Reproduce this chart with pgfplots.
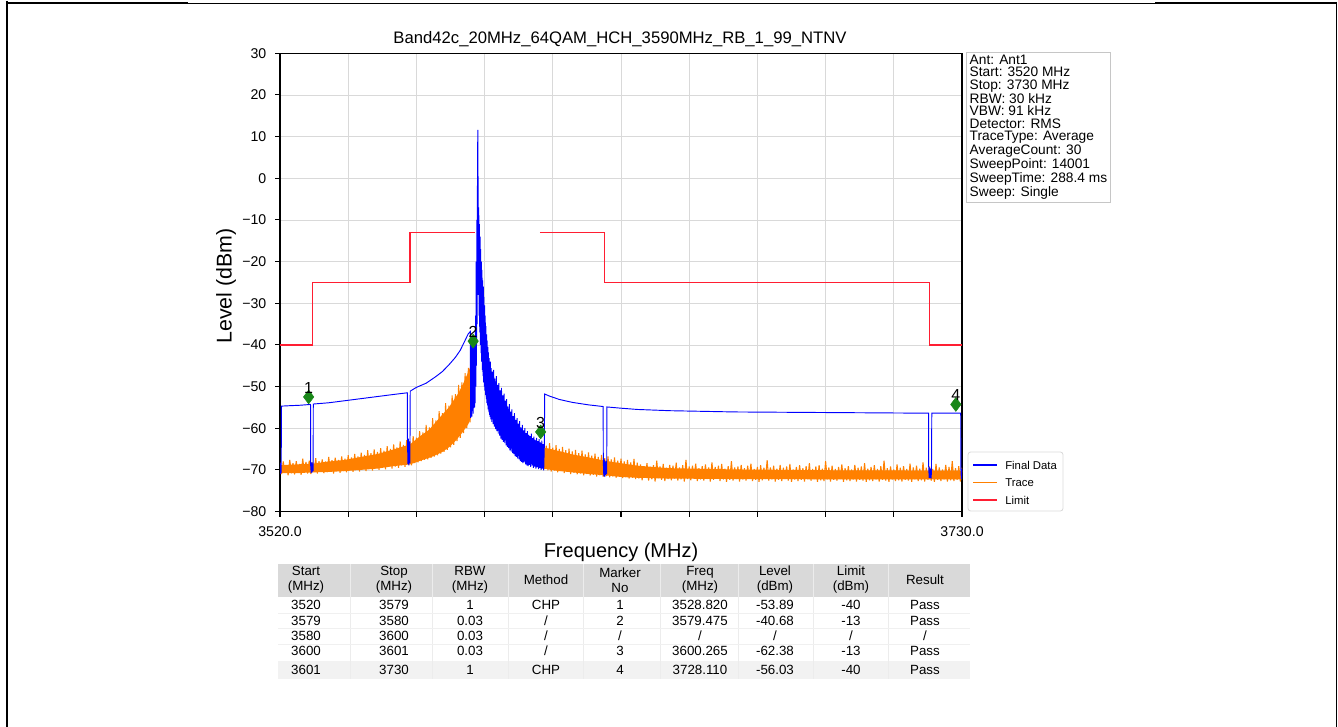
\documentclass[border=0pt]{standalone}
\usepackage{fontspec}
\setmainfont{Liberation Sans}
\usepackage{pgfplots}
\pgfplotsset{compat=1.18}
\definecolor{fdblue}{RGB}{0,0,255}
\definecolor{trorange}{RGB}{255,128,0}
\definecolor{limred}{RGB}{255,30,50}
\definecolor{mkgreen}{RGB}{25,135,25}
\newcommand{\trow}[9]{%
  \node[anchor=base] at (306,\ry) {#1};
  \node[anchor=base] at (394,\ry) {#2};
  \node[anchor=base] at (470,\ry) {#3};
  \node[anchor=base] at (546,\ry) {#4};
  \node[anchor=base] at (620,\ry) {#5};
  \node[anchor=base] at (700,\ry) {#6};
  \node[anchor=base] at (775,\ry) {#7};
  \node[anchor=base] at (851,\ry) {#8};
  \node[anchor=base] at (925,\ry) {#9};}
\begin{document}
\begin{tikzpicture}
\path[use as bounding box] (0pt,0pt) rectangle (1003.5pt,-545.25pt);
\begin{scope}[x=0.75pt,y=-0.75pt]
\draw[line width=1.5pt] (7,1) -- (7,727);
\draw[line width=2.2pt] (6,3) -- (188,3);
\draw[line width=0.6pt] (188,3) -- (1155,3);
\draw[line width=2.2pt] (1155,3) -- (1337,3);
\draw[line width=1.1pt] (1336.5,2) -- (1336.5,727);
\end{scope}
\begin{axis}[
  at={(210pt,-383.625pt)}, anchor=south west,
  scale only axis, width=511.5pt, height=343.65pt,
  xmin=3520, xmax=3730, ymin=-80, ymax=30,
  xtick={3520,3541,3562,3583,3604,3625,3646,3667,3688,3709,3730},
  xticklabels={3520.0,,,,,,,,,,3730.0},
  ytick={-80,-70,-60,-50,-40,-30,-20,-10,0,10,20,30},
  yticklabels={−80,−70,−60,−50,−40,−30,−20,−10,0,10,20,30},
  tick align=outside, xtick pos=left, ytick pos=left,
  major tick length=3.75pt,
  every tick/.style={black, line width=0.8pt},
  grid=major, major grid style={gray!30, line width=0.5pt},
  axis line style={line width=0.9pt},
  ticklabel style={font=\fontsize{10.6}{12}\selectfont},
  xticklabel style={yshift=-4pt},
  yticklabel style={xshift=-3pt},
  /pgf/number format/assume math mode=true,
]
% Trace (orange) body of the noise band, left part
\addplot[fill=trorange, draw=none] coordinates {
(3520,-68.9)(3525,-68.7)(3530,-68.5)(3535,-68.0)(3540,-67.6)(3545,-66.9)(3550,-66.2)(3555,-65.1)(3560,-63.9)
(3563,-62.0)(3566,-60.3)(3569,-57.6)(3572,-55.0)(3575,-51.5)(3577,-48.3)(3579,-44.5)
(3579,-57.0)(3578,-59.0)(3576,-61.2)(3574,-63.1)(3572,-64.6)(3570,-65.7)(3567,-66.8)(3564,-67.6)(3560,-68.7)
(3555,-69.1)(3550,-69.7)(3545,-70.0)(3540,-70.3)(3535,-70.5)(3530,-70.6)(3525,-70.8)(3520,-70.8)};
% Trace (orange) body of the noise band, right part
\addplot[fill=trorange, draw=none] coordinates {
(3601,-64.6)(3605,-65.3)(3610,-66.3)(3615,-67.0)(3620,-67.8)(3625,-68.4)(3630,-69.0)(3640,-69.6)(3660,-69.9)(3690,-70.1)(3730,-70.2)
(3730,-72.3)(3700,-72.3)(3660,-72.2)(3640,-72.1)(3630,-71.9)(3625,-71.7)(3620,-71.3)(3615,-71.0)(3610,-70.6)(3605,-70.2)(3601,-69.7)};
% Trace (orange), left part
\addplot[trorange, line width=0.8pt, line join=bevel] coordinates {
(3520,-68.3)(3520.5,-71.0)(3521,-68.0)(3521.5,-70.6)(3522,-68.9)(3522.5,-71.3)(3523,-67.6)(3523.5,-70.8)(3524,-68.4)(3524.5,-71.1)
(3525,-67.9)(3525.5,-70.4)(3526,-68.6)(3526.5,-71.2)(3527,-67.3)(3527.5,-70.7)(3528,-68.1)(3528.5,-70.9)(3529,-67.8)(3529.5,-71.0)
(3530,-68.2)(3530.5,-70.5)(3531,-67.2)(3531.5,-70.9)(3532,-67.9)(3532.5,-70.3)(3533,-67.5)(3533.5,-70.8)(3534,-68.0)(3534.5,-70.6)
(3535,-66.9)(3535.5,-70.4)(3536,-67.7)(3536.5,-70.9)(3537,-67.1)(3537.5,-70.2)(3538,-67.6)(3538.5,-70.7)(3539,-66.8)(3539.5,-70.3)
(3540,-67.3)(3540.5,-70.6)(3541,-66.5)(3541.5,-70.1)(3542,-67.0)(3542.5,-70.5)(3543,-66.2)(3543.5,-70.0)(3544,-66.8)(3544.5,-70.4)
(3545,-65.9)(3545.5,-69.9)(3546,-66.4)(3546.5,-70.3)(3547,-65.3)(3547.5,-69.8)(3548,-66.0)(3548.5,-70.2)(3549,-65.1)(3549.5,-69.6)
(3550,-65.7)(3550.5,-70.0)(3551,-64.8)(3551.5,-69.5)(3552,-65.4)(3552.5,-69.9)(3553,-64.3)(3553.5,-69.3)(3554,-65.0)(3554.5,-69.7)
(3555,-63.9)(3555.5,-69.2)(3556,-64.6)(3556.5,-69.5)(3557,-63.2)(3557.5,-68.9)(3558,-64.0)(3558.5,-69.3)(3559,-62.8)(3559.5,-68.7)
(3560,-63.1)(3560.5,-68.9)(3561,-61.9)(3561.5,-68.4)(3562,-62.3)(3562.5,-68.2)(3563,-60.7)(3563.5,-67.9)(3564,-61.0)(3564.5,-67.6)
(3565,-59.2)(3565.5,-67.5)(3566,-59.8)(3566.5,-67.1)(3567,-57.6)(3567.5,-66.8)(3568,-58.1)(3568.5,-66.5)(3569,-55.9)(3569.5,-66.1)
(3570,-56.4)(3570.5,-65.7)(3571,-54.0)(3571.5,-65.2)(3572,-54.6)(3572.5,-64.6)(3573,-52.1)(3573.5,-64.0)(3574,-51.8)(3574.5,-63.1)
(3575,-49.6)(3575.5,-62.3)(3576,-49.0)(3576.5,-61.2)(3577,-46.8)(3577.5,-60.0)(3578,-45.5)(3578.5,-58.6)(3579,-43.5)
};
% Trace (orange), right part
\addplot[trorange, line width=0.8pt, line join=bevel] coordinates {
(3601,-63.8)(3601.5,-69.8)(3602,-64.2)(3602.5,-70.1)(3603,-63.6)(3603.5,-70.4)(3604,-64.7)(3604.5,-70.2)(3605,-64.1)(3605.5,-70.6)
(3606,-65.0)(3606.5,-70.3)(3607,-64.5)(3607.5,-70.8)(3608,-65.3)(3608.5,-70.5)(3609,-64.9)(3609.5,-71.0)(3610,-65.6)(3610.5,-70.7)
(3611,-65.2)(3611.5,-71.1)(3612,-66.0)(3612.5,-70.9)(3613,-65.4)(3613.5,-71.3)(3614,-66.3)(3614.5,-71.0)(3615,-65.8)(3615.5,-71.4)
(3616,-66.6)(3616.5,-71.2)(3617,-66.1)(3617.5,-71.6)(3618,-66.9)(3618.5,-71.3)(3619,-66.4)(3619.5,-71.7)(3620,-67.2)(3620.5,-71.5)
(3621,-66.8)(3621.5,-71.8)(3622,-67.5)(3622.5,-71.6)(3623,-67.0)(3623.5,-71.9)(3624,-67.8)(3624.5,-71.7)(3625,-67.3)(3625.5,-72.0)
(3626,-68.0)(3626.5,-71.8)(3627,-67.6)(3627.5,-72.1)(3628,-68.2)(3628.5,-71.9)(3629,-67.4)(3629.5,-72.2)(3630,-68.3)(3630.5,-72.1)
(3631,-68.7)(3631.5,-72.5)(3632,-69.1)(3632.5,-71.9)(3633,-68.4)(3633.5,-72.6)(3634,-69.3)(3634.5,-72.3)(3635,-68.9)(3635.5,-72.8)
(3636,-67.8)(3636.5,-72.0)(3637,-69.2)(3637.5,-72.4)(3638,-68.6)(3638.5,-72.7)(3639,-69.5)(3639.5,-72.2)(3640,-68.8)(3640.5,-72.5)
(3641,-69.0)(3641.5,-72.1)(3642,-68.3)(3642.5,-72.6)(3643,-69.4)(3643.5,-72.3)(3644,-68.9)(3644.5,-72.8)(3645,-67.6)(3645.5,-72.2)
(3646,-69.2)(3646.5,-72.5)(3647,-69.0)(3647.5,-72.0)(3648,-68.5)(3648.5,-72.7)(3649,-69.6)(3649.5,-72.3)(3650,-69.1)(3650.5,-72.6)
(3651,-68.7)(3651.5,-72.2)(3652,-69.4)(3652.5,-72.8)(3653,-68.2)(3653.5,-72.4)(3654,-69.3)(3654.5,-72.1)(3655,-69.0)(3655.5,-72.7)
(3656,-68.6)(3656.5,-72.3)(3657,-69.7)(3657.5,-72.9)(3658,-69.1)(3658.5,-72.4)(3659,-67.9)(3659.5,-72.6)(3660,-69.4)(3660.5,-72.2)
(3661,-69.2)(3661.5,-72.8)(3662,-68.8)(3662.5,-72.3)(3663,-69.6)(3663.5,-72.6)(3664,-69.0)(3664.5,-72.1)(3665,-68.5)(3665.5,-72.7)
(3666,-69.8)(3666.5,-72.4)(3667,-69.3)(3667.5,-72.9)(3668,-68.9)(3668.5,-72.5)(3669,-69.5)(3669.5,-72.2)(3670,-67.7)(3670.5,-72.6)
(3671,-69.4)(3671.5,-72.3)(3672,-69.0)(3672.5,-72.8)(3673,-69.7)(3673.5,-72.4)(3674,-68.8)(3674.5,-72.7)(3675,-69.5)(3675.5,-72.2)
(3676,-69.2)(3676.5,-72.6)(3677,-68.6)(3677.5,-72.9)(3678,-69.9)(3678.5,-72.3)(3679,-69.3)(3679.5,-72.7)(3680,-68.9)(3680.5,-72.4)
(3681,-69.6)(3681.5,-72.8)(3682,-69.1)(3682.5,-72.3)(3683,-68.4)(3683.5,-72.6)(3684,-69.8)(3684.5,-72.2)(3685,-69.2)(3685.5,-72.9)
(3686,-68.9)(3686.5,-72.5)(3687,-69.7)(3687.5,-72.7)(3688,-67.9)(3688.5,-72.3)(3689,-69.4)(3689.5,-72.8)(3690,-69.0)(3690.5,-72.4)
(3691,-69.8)(3691.5,-72.6)(3692,-69.3)(3692.5,-72.2)(3693,-68.7)(3693.5,-72.9)(3694,-69.6)(3694.5,-72.5)(3695,-69.1)(3695.5,-72.7)
(3696,-69.9)(3696.5,-72.3)(3697,-68.8)(3697.5,-72.8)(3698,-69.5)(3698.5,-72.4)(3699,-69.2)(3699.5,-72.6)(3700,-68.4)(3700.5,-72.9)
(3701,-69.7)(3701.5,-72.5)(3702,-69.3)(3702.5,-72.7)(3703,-68.9)(3703.5,-72.3)(3704,-69.8)(3704.5,-72.8)(3705,-69.1)(3705.5,-72.4)
(3706,-67.8)(3706.5,-72.6)(3707,-69.6)(3707.5,-72.9)(3708,-69.2)(3708.5,-72.3)(3709,-69.9)(3709.5,-72.7)(3710,-68.7)(3710.5,-72.5)
(3711,-69.5)(3711.5,-72.8)(3712,-69.1)(3712.5,-72.4)(3713,-69.8)(3713.5,-72.6)(3714,-68.5)(3714.5,-72.9)(3715,-69.4)(3715.5,-72.3)
(3716,-69.0)(3716.5,-72.7)(3717,-69.7)(3717.5,-72.5)(3718,-68.2)(3718.5,-72.8)(3719,-69.5)(3719.5,-72.4)(3720,-69.2)(3720.5,-72.6)
(3721,-69.8)(3721.5,-72.9)(3722,-68.6)(3722.5,-72.4)(3723,-69.4)(3723.5,-72.7)(3724,-69.9)(3724.5,-72.3)(3725,-68.8)(3725.5,-72.8)
(3726,-69.3)(3726.5,-72.5)(3727,-67.9)(3727.5,-72.7)(3728,-69.6)(3728.5,-72.4)(3729,-69.1)(3729.5,-72.8)(3730,-69.5)
};
% Final Data (blue)
\addplot[fdblue, line width=0.7pt] coordinates {
(3520,-68.4)(3520.12,-71.0)(3520.24,-68.6)(3520.36,-70.7)(3520.45,-54.7)
(3523,-54.6)(3526,-54.5)(3529.4,-54.3)
(3529.45,-69.0)(3529.6,-70.8)(3529.75,-68.2)(3529.9,-70.6)(3530.05,-68.5)(3530.2,-70.3)(3530.25,-54.2)
(3535,-53.9)(3540,-53.4)(3545,-52.9)(3550,-52.4)(3555,-51.9)(3559.2,-51.5)
(3559.25,-63.0)(3559.4,-68.6)(3559.55,-62.5)(3559.7,-68.9)(3559.85,-63.2)(3560.0,-68.4)(3560.1,-51.1)
(3562,-50.2)(3565,-49.2)(3568,-47.6)(3570,-46.4)(3572,-44.8)(3574,-43.0)(3575.5,-41.3)(3577,-38.9)(3578,-37.3)(3578.6,-36.8)
(3578.7,-57.5)(3578.8,-38.5)(3578.9,-56.8)(3579.0,-39.5)(3579.1,-57.2)(3579.2,-38.2)(3579.3,-55.9)(3579.4,-39.0)(3579.5,-56.5)
(3579.6,-40.1)(3579.7,-55.2)(3579.8,-41.3)(3579.9,-55.0)
(3580.0,-40)(3580.1,-54)(3580.2,-33)(3580.3,-50)(3580.4,-20)(3580.5,-45)(3580.6,-10)(3580.7,-35)(3580.8,-2)(3580.9,11.6)
(3581.0,-3)(3581.1,-28)(3581.2,-7)(3581.3,-33)(3581.4,-11)(3581.5,-37)(3581.6,-14)(3581.7,-40)(3581.8,-17)(3581.9,-42)
(3582.0,-20)(3582.1,-44)(3582.2,-22)(3582.3,-46)(3582.4,-24.5)(3582.5,-47.5)(3582.6,-26)(3582.7,-49)(3582.8,-28.5)(3582.9,-50)
(3583.0,-30.5)(3583.1,-51)(3583.2,-33)(3583.3,-52)(3583.4,-35.5)(3583.5,-53)(3583.6,-37.5)(3583.7,-54)(3583.8,-39)(3583.9,-54.5)
(3584.0,-40.5)(3584.1,-55.5)(3584.2,-41.8)(3584.3,-56)(3584.4,-43.2)(3584.5,-56.8)(3584.6,-44.5)(3584.7,-57.3)(3584.8,-44.0)(3584.9,-57.9)
(3585.0,-45.6)(3585.2,-58.5)(3585.4,-46.4)(3585.6,-59.0)(3585.8,-46.0)(3586.0,-59.6)(3586.2,-48.1)(3586.4,-60.2)(3586.6,-47.5)(3586.8,-60.7)
(3587.0,-49.6)(3587.2,-61.3)(3587.4,-49.2)(3587.6,-61.8)(3587.8,-50.9)(3588.0,-62.5)(3588.2,-50.3)(3588.4,-62.8)(3588.6,-52.1)(3588.8,-63.3)
(3589.0,-51.7)(3589.2,-63.6)(3589.4,-53.4)(3589.6,-64.1)(3589.8,-53.0)(3590.0,-64.5)(3590.2,-54.8)(3590.4,-64.8)(3590.6,-54.2)(3590.8,-65.3)
(3591.0,-56.0)(3591.2,-65.6)(3591.4,-55.5)(3591.6,-66.0)(3591.8,-57.1)(3592.0,-66.2)(3592.2,-56.4)(3592.4,-66.7)(3592.6,-58.0)(3592.8,-66.9)
(3593.0,-57.6)(3593.2,-67.3)(3593.4,-58.9)(3593.6,-67.5)(3593.8,-58.3)(3594.0,-67.9)(3594.2,-59.8)(3594.4,-68.1)(3594.6,-59.2)(3594.8,-68.4)
(3595.0,-60.5)(3595.2,-68.2)(3595.4,-60.0)(3595.6,-68.7)(3595.8,-61.2)(3596.0,-68.9)(3596.2,-60.7)(3596.4,-69.1)(3596.6,-61.6)(3596.8,-68.8)
(3597.0,-61.9)(3597.2,-69.3)(3597.4,-61.3)(3597.6,-69.0)(3597.8,-62.4)(3598.0,-69.5)(3598.2,-62.0)(3598.4,-69.2)(3598.6,-62.8)(3598.8,-69.7)
(3599.0,-62.3)(3599.2,-69.4)(3599.4,-63.1)(3599.6,-69.8)(3599.8,-62.6)(3600.0,-69.6)(3600.2,-63.4)(3600.4,-70.0)(3600.6,-63.0)(3600.8,-69.7)
(3601.0,-63.8)(3601.2,-70.1)(3601.4,-64.0)(3601.5,-51.8)
(3603,-52.3)(3606,-53.1)(3610,-53.8)(3615,-54.4)(3619.5,-54.8)
(3619.55,-67.8)(3619.7,-71.5)(3619.85,-67.5)(3620.0,-71.7)(3620.15,-68.0)(3620.3,-71.2)(3620.45,-67.9)(3620.6,-71.0)(3620.65,-54.9)
(3625,-55.2)(3630,-55.5)(3640,-55.8)(3660,-56.1)(3680,-56.2)(3700,-56.3)(3719.7,-56.4)
(3719.75,-69.6)(3719.9,-72.0)(3720.05,-69.4)(3720.2,-71.9)(3720.35,-69.7)(3720.5,-72.1)(3720.6,-69.8)(3720.7,-56.4)
(3729.6,-56.4)(3729.65,-69.5)(3729.8,-72.2)(3729.9,-69.8)(3730,-71.8)
};
% Limit (red)
\addplot[limred, line width=1.0pt] coordinates {
(3520,-40)(3530,-40)(3530,-25)(3560,-25)(3560,-13)(3580,-13)};
\addplot[limred, line width=1.0pt] coordinates {
(3600,-13)(3620,-13)(3620,-25)(3720,-25)(3720,-40)(3730,-40)};
% Markers
\addplot[only marks, mark=diamond*, mark size=5.2pt, color=mkgreen,
  point meta=explicit symbolic, nodes near coords,
  every node near coord/.append style={black, font=\fontsize{12}{12}\selectfont, anchor=south, yshift=1.5pt, inner sep=1pt}]
  coordinates {(3528.82,-52.5)[1] (3579.475,-39.1)[2] (3600.265,-60.9)[3] (3728.11,-54.3)[4]};
\end{axis}
\begin{scope}[x=0.75pt,y=-0.75pt]
% legend
\draw[gray!30, line width=0.6pt, rounded corners=2pt] (968,452) rectangle (1063,511);
\draw[fdblue, line width=1.1pt] (973,465) -- (997,465);
\draw[trorange, line width=1.1pt] (973,482.5) -- (997,482.5);
\draw[limred, line width=1.1pt] (973,500) -- (997,500);
\begin{scope}[every node/.style={font=\fontsize{8.5}{10}\selectfont, anchor=west, inner sep=0pt}]
\node at (1005,465) {Final Data};
\node at (1005,482.5) {Trace};
\node at (1005,500) {Limit};
\end{scope}
\node[font=\fontsize{12.5}{14}\selectfont] at (620,39) {Band42c\_20MHz\_64QAM\_HCH\_3590MHz\_RB\_1\_99\_NTNV};
\node[font=\fontsize{15}{17}\selectfont] at (621,552) {Frequency (MHz)};
\node[font=\fontsize{16}{18}\selectfont, rotate=90] at (226,286) {Level (dBm)};
\node[draw=gray!45, line width=0.6pt, anchor=north west, align=left, inner xsep=2.5pt, inner ysep=2pt,
  font=\fontsize{10.3}{9.3}\selectfont] at (966,52)
  {Ant: Ant1\\Start: 3520 MHz\\Stop: 3730 MHz\\RBW: 30 kHz\\VBW: 91 kHz\\Detector: RMS\\TraceType: Average\\AverageCount: 30\\SweepPoint: 14001\\SweepTime: 288.4 ms\\Sweep: Single};
% table
\fill[gray!30] (278,564) rectangle (970,597);
\fill[gray!10] (278,661) rectangle (970,679);
\foreach \xx in {350,432,508,583,660,738,813,888} \draw[gray!15, line width=0.4pt] (\xx,564) -- (\xx,679);
\foreach \yy in {613,628,644} \draw[gray!12, line width=0.4pt] (278,\yy) -- (970,\yy);
\begin{scope}[every node/.style={font=\fontsize{10}{11.25}\selectfont, align=center, inner sep=0pt}]
\node at (306,580) {Start\\(MHz)};
\node at (394,580) {Stop\\(MHz)};
\node at (470,580) {RBW\\(MHz)};
\node at (546,580) {Method};
\node at (620,580) {Marker\\No};
\node at (700,580) {Freq\\(MHz)};
\node at (775,580) {Level\\(dBm)};
\node at (851,580) {Limit\\(dBm)};
\node at (925,580) {Result};
\def\ry{609.5}\trow{3520}{3579}{1}{CHP}{1}{3528.820}{-53.89}{-40}{Pass}
\def\ry{625}\trow{3579}{3580}{0.03}{/}{2}{3579.475}{-40.68}{-13}{Pass}
\def\ry{640.5}\trow{3580}{3600}{0.03}{/}{/}{/}{/}{/}{/}
\def\ry{655.5}\trow{3600}{3601}{0.03}{/}{3}{3600.265}{-62.38}{-13}{Pass}
\def\ry{674.5}\trow{3601}{3730}{1}{CHP}{4}{3728.110}{-56.03}{-40}{Pass}
\end{scope}
\end{scope}
\end{tikzpicture}
\end{document}
